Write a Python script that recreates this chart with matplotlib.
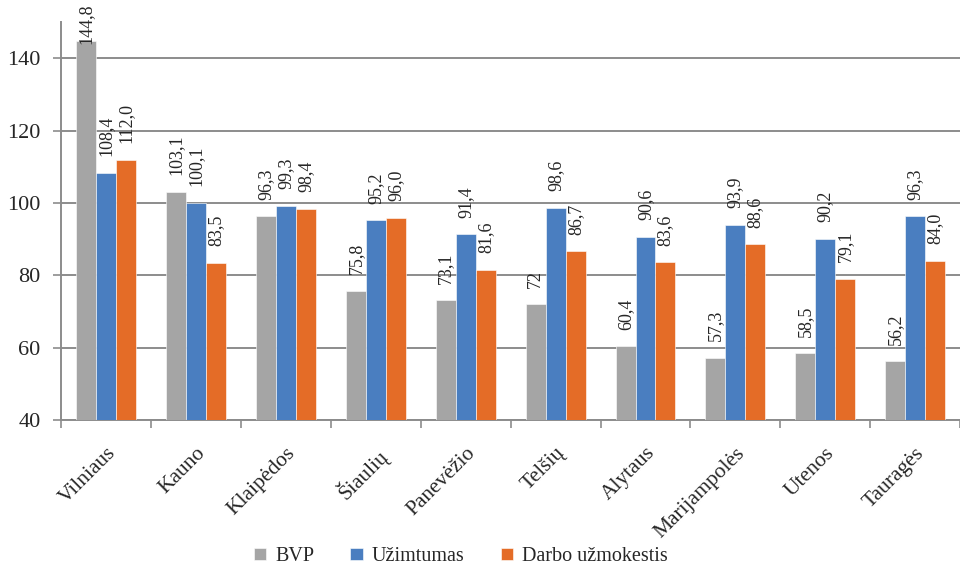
import numpy as np
import matplotlib.pyplot as plt

regions = ["Vilniaus", "Kauno", "Klaipėdos", "Šiaulių", "Panevėžio",
           "Telšių", "Alytaus", "Marijampolės", "Utenos", "Tauragės"]
bvp = [144.8, 103.1, 96.3, 75.8, 73.1, 72, 60.4, 57.3, 58.5, 56.2]
uzimt = [108.4, 100.1, 99.3, 95.2, 91.4, 98.6, 90.6, 93.9, 90.2, 96.3]
darbo = [112.0, 83.5, 98.4, 96.0, 81.6, 86.7, 83.6, 88.6, 79.1, 84.0]
bvp_lbl = ["144,8", "103,1", "96,3", "75,8", "73,1", "72", "60,4", "57,3", "58,5", "56,2"]
uzimt_lbl = ["108,4", "100,1", "99,3", "95,2", "91,4", "98,6", "90,6", "93,9", "90,2", "96,3"]
darbo_lbl = ["112,0", "83,5", "98,4", "96,0", "81,6", "86,7", "83,6", "88,6", "79,1", "84,0"]
series_names = ["BVP", "Užimtumas", "Darbo užmokestis"]
colors = ["#A5A5A5", "#4A7EC0", "#E46C27"]

plt.rcParams['font.family'] = ['Liberation Serif', 'DejaVu Serif']
txt_col = "#262626"

fig = plt.figure(figsize=(9.6, 5.7), dpi=100)
ax = fig.add_axes([0.064, 0.263, 0.936, 0.698])

ax.set_ylim(40, 150)
ax.set_xlim(-0.5, len(regions) - 0.5)

x = np.arange(len(regions))
w = 0.222
anns = []
for k, (vals, lbls) in enumerate([(bvp, bvp_lbl), (uzimt, uzimt_lbl), (darbo, darbo_lbl)]):
    pos = x + (k - 1) * w
    ax.bar(pos, np.array(vals) - 40, width=w, bottom=40, color=colors[k],
           edgecolor="white", linewidth=0.4, label=series_names[k], zorder=3)
    for xi, v, s in zip(pos, vals, lbls):
        a = ax.annotate(s, (xi, v), xytext=(0, 12), textcoords="offset points",
                        rotation=90, ha="center", va="bottom", fontsize=13,
                        color=txt_col, zorder=4, annotation_clip=False)
        anns.append(a)

ax.set_yticks([40, 60, 80, 100, 120, 140])
ax.yaxis.grid(True, color="#8c8c8c", linewidth=1.4, zorder=0)
ax.set_axisbelow(True)
ax.tick_params(axis="y", length=6, width=1.2, color="#8c8c8c", labelsize=16,
               labelcolor=txt_col, pad=9)

ax.set_xticks(x)
ax.set_xticklabels(regions, rotation=45, ha="right", rotation_mode="anchor",
                   fontsize=15.5, color=txt_col)
ax.tick_params(axis="x", length=0, pad=17)
ax.set_xticks(np.arange(-0.5, len(regions)), minor=True)
ax.tick_params(axis="x", which="minor", length=6, width=1.2, color="#8c8c8c")

for side in ["top", "right"]:
    ax.spines[side].set_visible(False)
for side in ["left", "bottom"]:
    ax.spines[side].set_color("#8c8c8c")
    ax.spines[side].set_linewidth(1.4)

fig.legend(loc="lower center", ncol=3, frameon=False, fontsize=14.5,
           bbox_to_anchor=(0.48, -0.025), handlelength=0.6, handleheight=0.6,
           handletextpad=0.45, columnspacing=1.8, labelcolor=txt_col)

# keep labels that would run past the top edge inside the figure
fig.canvas.draw()
r = fig.canvas.get_renderer()
fig_h = fig.bbox.height
for a in anns:
    bb = a.get_window_extent(r)
    over = bb.y1 - (fig_h - 3)
    if over > 0:
        a.xyann = (0, 12 - over * 72 / fig.dpi)

fig.savefig("out.png", dpi=100)
